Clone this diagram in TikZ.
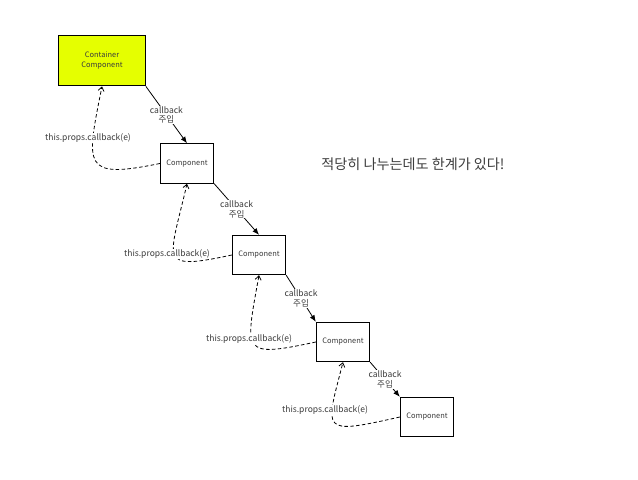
\documentclass[tikz,border=0pt]{standalone}
\usepackage{fontspec}
\usetikzlibrary{arrows.meta}
\newfontfamily\kofont{Noto Sans CJK KR}
\definecolor{boxyellow}{RGB}{229,255,0}
\definecolor{txtgray}{RGB}{60,60,60}
\tikzset{
    comp/.style={draw=black, line width=0.8pt, fill=white, minimum width=40pt, minimum height=29.5pt,
        inner sep=0pt, font=\kofont\fontsize{5.6}{7}\selectfont, text=txtgray, align=center},
    inject/.style={line width=0.6pt, -{Latex[length=5pt,width=4pt]}},
    injlabel/.style={fill=white, inner sep=0.5pt, align=center, text=txtgray,
        font=\kofont\fontsize{6.4}{7.2}\selectfont},
    callup/.style={line width=0.6pt, dash pattern=on 2.6pt off 1.8pt, -{Straight Barb[length=3pt,width=4.5pt]}},
    cblabel/.style={fill=white, inner sep=0.5pt, text=txtgray, font=\kofont\fontsize{6.4}{7.2}\selectfont}
}
\begin{document}
\begin{tikzpicture}[x=0.75pt, y=-0.75pt]
    % 1. Khung hình
    \useasboundingbox (0, 0) rectangle (638, 479);

    % 2. Các khối component
    \node[comp, fill=boxyellow, minimum width=65pt, minimum height=38pt] (cont) at (102, 60.5) {Container\\Component};
    \node[comp] (c1) at (187, 163.5) {Component};
    \node[comp] (c2) at (259, 255) {Component};
    \node[comp] (c3) at (343, 342) {Component};
    \node[comp] (c4) at (427, 417) {Component};

    % 3. Tiêu đề
    \node[text=txtgray, font=\kofont\fontsize{10.6}{12}\selectfont] (title) at (413, 164) {적당히 나누는데도 한계가 있다!};

    % 4. Mũi tên callback 주입
    \draw[inject] (cont.south east) -- (c1.north) node[injlabel, midway] (inj1) {callback\\주입};
    \draw[inject] (c1.south east) -- (c2.north) node[injlabel, midway] (inj2) {callback\\주입};
    \draw[inject] (c2.south east) -- (c3.north west) node[injlabel, midway] (inj3) {callback\\주입};
    \draw[inject] (c3.south east) -- (c4.north west) node[injlabel, midway] (inj4) {callback\\주입};

    % 5. Đường nét đứt gọi ngược
    \draw[callup] (c1.west) .. controls +(-78, 16) and +(-16, 80) .. (cont.south);
    \draw[callup] (c2.west) .. controls +(-75, 16) and +(-18, 78) .. (c1.south);
    \draw[callup] (c3.west) .. controls +(-75, 16) and +(-14, 78) .. (c2.south);
    \draw[callup] (c4.west) .. controls +(-80, 18) and +(-18, 70) .. (c3.south);

    % 6. Nhãn this.props.callback(e)
    \node[cblabel] (cb1) at (88, 138) {this.props.callback(e)};
    \node[cblabel] (cb2) at (167, 254) {this.props.callback(e)};
    \node[cblabel] (cb3) at (249, 339) {this.props.callback(e)};
    \node[cblabel] (cb4) at (325, 410) {this.props.callback(e)};
\end{tikzpicture}
\end{document}
